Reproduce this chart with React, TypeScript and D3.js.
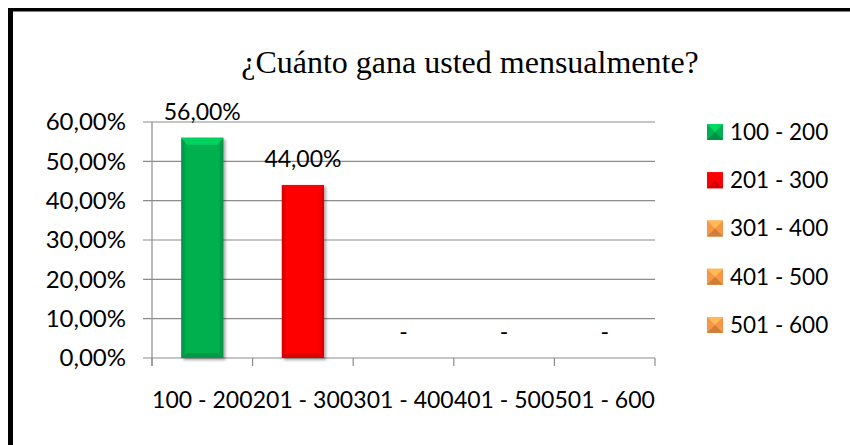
import React from 'react';
import * as d3 from 'd3';

const categories = ['100 - 200', '201 - 300', '301 - 400', '401 - 500', '501 - 600'];
const values = [56, 44, 0, 0, 0];
const colors = ['#00B050', '#FF0000', '#F79646', '#F79646', '#F79646'];
const yTicks = [0, 10, 20, 30, 40, 50, 60];
const title = '¿Cuánto gana usted mensualmente?';

const width = 850;
const height = 445;
const sans = 'Lato, "Noto Sans", sans-serif';
const serif = '"Liberation Serif", "DejaVu Serif", serif';

const locale = d3.formatLocale({ decimal: ',', thousands: '.', grouping: [3], currency: ['', ''] });
const pct = (v: number) => locale.format('.2f')(v) + '%';

const App: React.FC = () => {
  const x = d3.scaleBand<string>()
    .domain(categories)
    .range([152, 655])
    .paddingInner(0.58)
    .paddingOuter(0.29);

  const y = d3.scaleLinear().domain([0, 60]).range([358, 122]);

  const legendY = d3.scalePoint<string>()
    .domain(categories)
    .range([132, 325]);

  const step = x.step();
  const x0 = x.range()[0];

  return (
    <svg width={width} height={height} style={{ position: 'absolute', left: 0, top: 0, background: '#fff' }}>
      <defs>
        {colors.map((c, i) => (
          <linearGradient key={i} id={`side${i}`} x1="0" x2="1" y1="0" y2="0">
            <stop offset="0" stopColor={d3.color(c)!.darker(0.6).toString()} />
            <stop offset="0.12" stopColor={c} />
            <stop offset="0.88" stopColor={c} />
            <stop offset="1" stopColor={d3.color(c)!.darker(0.6).toString()} />
          </linearGradient>
        ))}
        <filter id="shadow" x="-20%" y="-10%" width="150%" height="130%">
          <feDropShadow dx="2" dy="2" stdDeviation="1.5" floodColor="#000" floodOpacity="0.35" />
        </filter>
      </defs>

      {/* frame */}
      <rect x={8} y={8} width={5} height={height - 8} fill="#000" />
      <rect x={8} y={8} width={width - 8} height={3.5} fill="#000" />

      <text x={470} y={73} textAnchor="middle" style={{ fontFamily: serif, fontSize: 32 }} fill="#000">
        {title}
      </text>

      {/* grid + y axis */}
      {yTicks.map(t => (
        <g key={t}>
          <line x1={143} x2={655} y1={y(t)} y2={y(t)} stroke="#8c8c8c" strokeWidth={1.2} />
          <text x={126} y={y(t)} dy="0.35em" textAnchor="end" style={{ fontFamily: sans, fontSize: 24 }} fill="#000">
            {pct(t)}
          </text>
        </g>
      ))}
      <line x1={152} x2={152} y1={y(60)} y2={366} stroke="#8c8c8c" strokeWidth={1.2} />
      {d3.range(categories.length + 1).map(i => (
        <line key={i} x1={x0 + i * step} x2={x0 + i * step} y1={y(0)} y2={366} stroke="#8c8c8c" strokeWidth={1.2} />
      ))}

      {/* bars */}
      {categories.map((c, i) => {
        const bx = x(c)!;
        const bw = x.bandwidth();
        const top = y(values[i]);
        const h = y(0) - top;
        const bev = Math.min(7, h / 2);
        const col = d3.color(colors[i])!;
        return (
          <g key={c}>
            {h > 0 && (
              <g filter="url(#shadow)">
                <rect x={bx} y={top} width={bw} height={h} fill={`url(#side${i})`} />
                <polygon
                  points={`${bx},${top} ${bx + bw},${top} ${bx + bw - 6},${top + bev} ${bx + 6},${top + bev}`}
                  fill={col.brighter(0.5).toString()}
                />
                <polygon
                  points={`${bx},${top + h} ${bx + bw},${top + h} ${bx + bw - 6},${top + h - 5} ${bx + 6},${top + h - 5}`}
                  fill={col.darker(0.4).toString()}
                />
              </g>
            )}
            <text x={bx + bw / 2} y={top - 18} textAnchor="middle" style={{ fontFamily: sans, fontSize: 23 }} fill="#000">
              {values[i] === 0 ? '-' : pct(values[i])}
            </text>
            <text x={bx + bw / 2} y={400} dy="0.35em" textAnchor="middle" style={{ fontFamily: sans, fontSize: 23 }} fill="#000">
              {c}
            </text>
          </g>
        );
      })}

      {/* legend */}
      {categories.map((c, i) => {
        const ly = legendY(c)!;
        const col = d3.color(colors[i])!;
        return (
          <g key={c}>
            <rect x={707} y={ly - 8} width={16} height={16} fill={colors[i]} />
            <polygon points={`${707},${ly - 8} ${723},${ly - 8} ${715},${ly}`} fill={col.brighter(0.6).toString()} />
            <polygon points={`${707},${ly + 8} ${723},${ly + 8} ${715},${ly}`} fill={col.darker(0.5).toString()} />
            <text x={730} y={ly} dy="0.35em" style={{ fontFamily: sans, fontSize: 22.5 }} fill="#000">{c}</text>
          </g>
        );
      })}
    </svg>
  );
};

export default App;
